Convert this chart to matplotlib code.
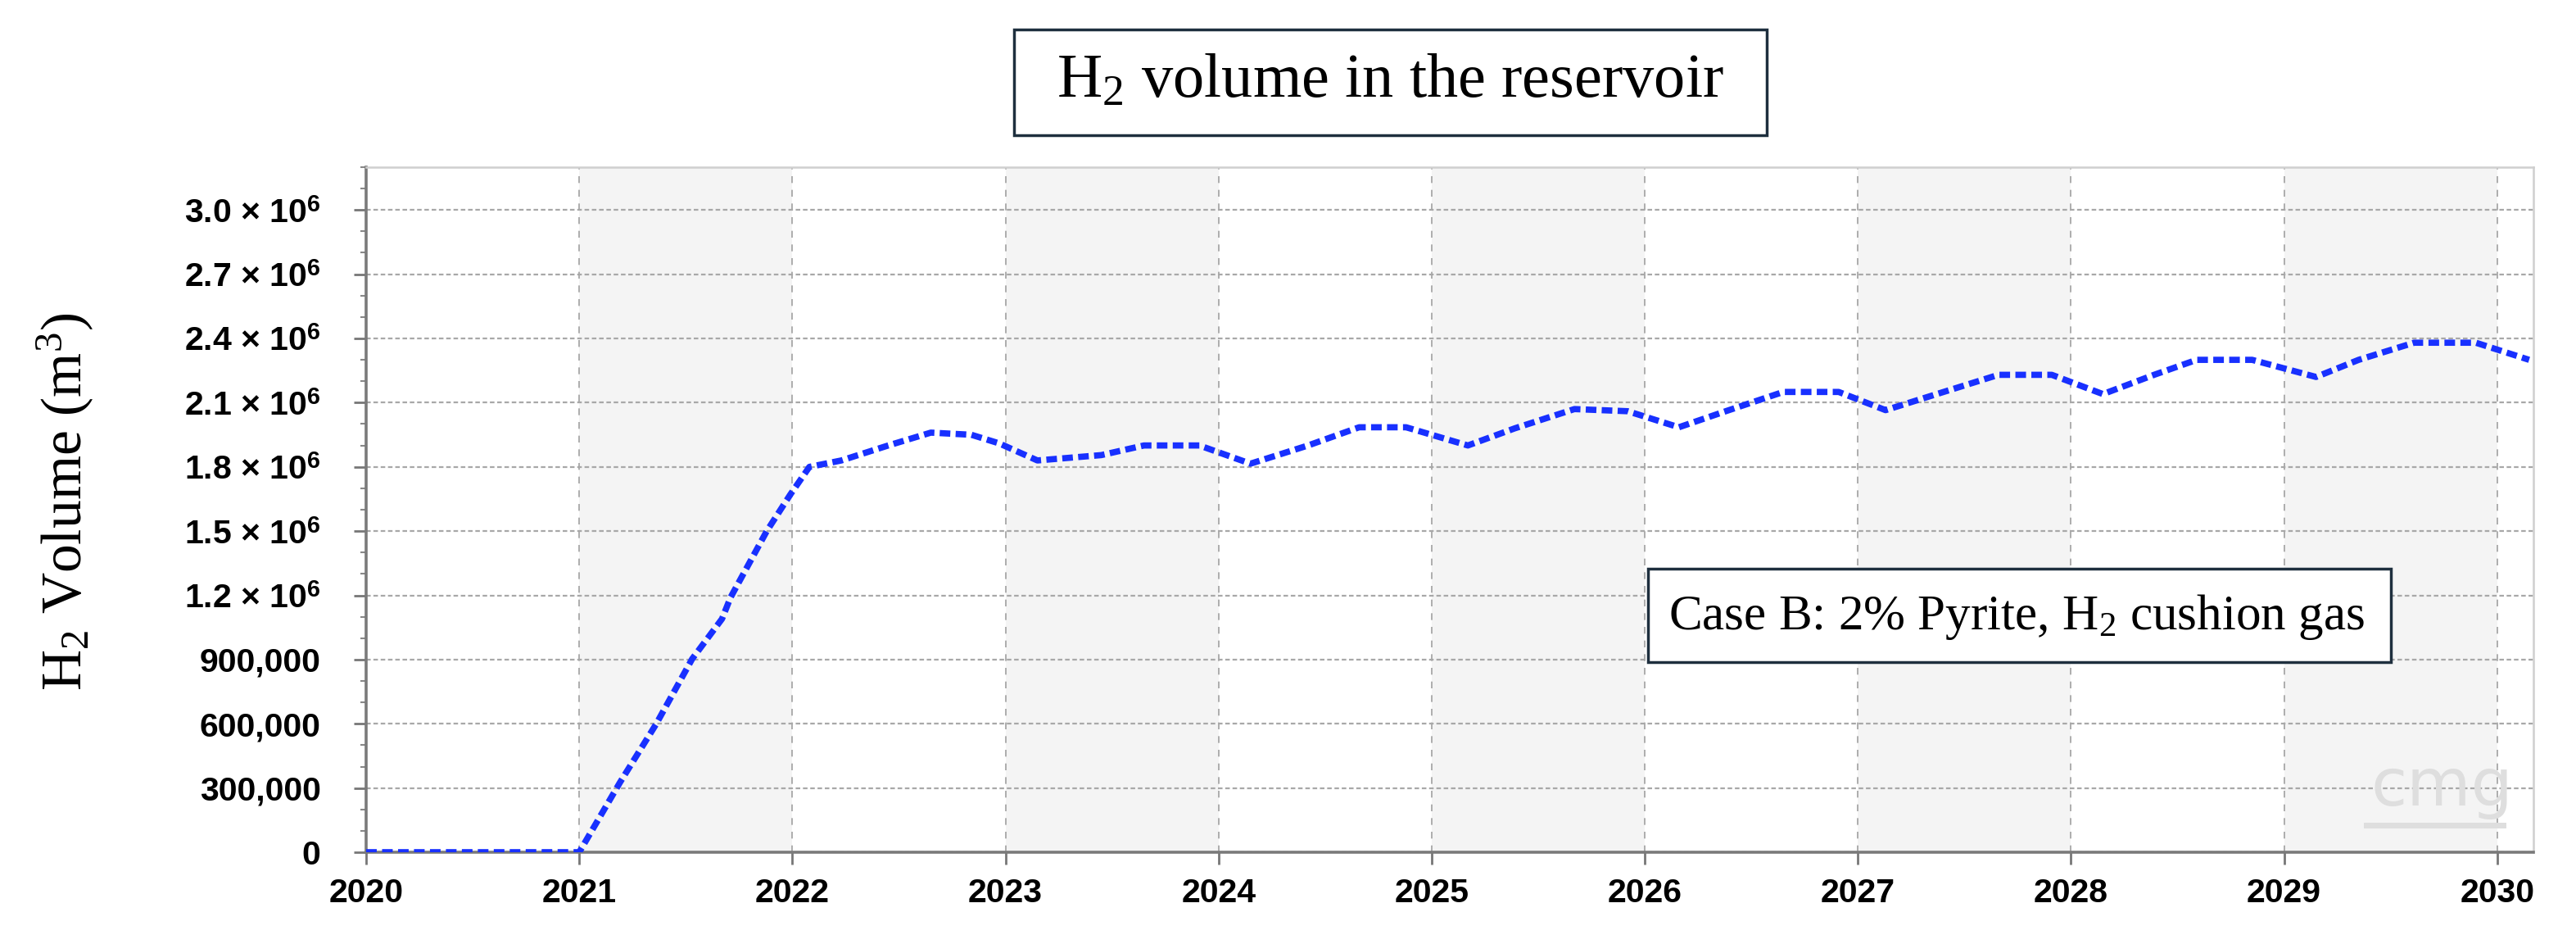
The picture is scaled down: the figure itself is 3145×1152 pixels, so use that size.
"""H2 volume in the reservoir -- Case B (2% pyrite, H2 cushion gas)."""
import numpy as np
import matplotlib
matplotlib.use("Agg")
import matplotlib.pyplot as plt
from matplotlib.patches import Rectangle
from matplotlib.ticker import FuncFormatter, MultipleLocator

plt.rcParams.update({
    "font.family": "Liberation Sans", "font.weight": "bold",
    "xtick.labelsize": 29.5, "ytick.labelsize": 29.5,
    "mathtext.fontset": "custom", "mathtext.rm": "Liberation Serif:weight=normal",
    "mathtext.it": "Liberation Serif:italic:weight=normal",
    "mathtext.bf": "Liberation Sans:bold",
})

# ---- data (years, m^3) ----
years = [2020.0, 2021.0, 2021.19, 2021.36, 2021.53, 2021.67, 2021.71, 2021.88, 2021.99,
         2022.08, 2022.23, 2022.45, 2022.65, 2022.84, 2022.97, 2023.15, 2023.45, 2023.65,
         2023.91, 2024.15, 2024.42, 2024.66, 2024.88, 2025.17, 2025.39, 2025.67, 2025.92,
         2026.16, 2026.38, 2026.65, 2026.91, 2027.13, 2027.37, 2027.66, 2027.91, 2028.15,
         2028.39, 2028.59, 2028.85, 2029.15, 2029.35, 2029.61, 2029.90, 2030.15]
h2_mm3 = [0, 0, 0.324, 0.597, 0.903, 1.09, 1.19, 1.50, 1.67,
          1.80, 1.83, 1.90, 1.96, 1.95, 1.91, 1.83, 1.855, 1.90,
          1.90, 1.815, 1.90, 1.985, 1.985, 1.90, 1.98, 2.07, 2.06,
          1.985, 2.06, 2.15, 2.15, 2.065, 2.14, 2.23, 2.23, 2.14,
          2.23, 2.30, 2.30, 2.22, 2.30, 2.38, 2.38, 2.30]
year_ticks = list(range(2020, 2031))
shaded_from = [2021, 2023, 2025, 2027, 2029]

title = "H$_2$ volume in the reservoir"
ylabel = "H$_2$ Volume (m$^3$)"
case_label = "Case B: 2% Pyrite, H$_2$ cushion gas"

vol = np.array(h2_mm3) * 1e6
XMAX, YMAX = 2030.17, 3.2e6
W, H = 3145, 1152
fig = plt.figure(figsize=(W / 100, H / 100), dpi=100)
ax = fig.add_axes([447 / W, 1 - 1040 / H, (3093 - 447) / W, (1040 - 204) / H])

for a in shaded_from:
    ax.axvspan(a, min(a + 1, XMAX), color="#f4f4f4", zorder=0, lw=0)

ax.plot(years, vol, color="#1830ff", lw=5.5, dashes=(1.7, 0.85), zorder=3)

ax.set_xlim(2020, XMAX); ax.set_ylim(0, YMAX)
ax.set_xticks(year_ticks)
ax.xaxis.set_major_formatter(FuncFormatter(lambda v, p: f"{int(round(v))}"))
ax.yaxis.set_major_locator(MultipleLocator(3e5))
ax.yaxis.set_minor_locator(MultipleLocator(1e5))


def yfmt(v, p):
    if v < 1:
        return "0"
    if v >= 1.2e6 - 1:
        return f"{v / 1e6:.1f} × 10" + r"$^{\mathbf{6}}$"
    return f"{int(round(v)):,}"


ax.yaxis.set_major_formatter(FuncFormatter(yfmt))
ax.tick_params(axis="both", which="major", direction="out", length=11, width=2,
               color="#777777")
ax.tick_params(axis="y", which="minor", direction="out", length=5, width=1.5, color="#888888")
ax.tick_params(axis="x", pad=11)
ax.tick_params(axis="y", pad=29)

ax.grid(axis="y", which="major", color="#a8a8a8", lw=1.6, ls=(0, (2.5, 1.5)), zorder=1)
ax.grid(axis="x", which="major", color="#a0a0a0", lw=1.2, ls=(0, (5, 5)), zorder=1)
ax.set_axisbelow(True)

for s in ("left", "bottom"):
    ax.spines[s].set(color="#7a7a7a", lw=2.6)
for s in ("top", "right"):
    ax.spines[s].set(color="#cfcfcf", lw=1.8)

# CMG watermark, lower right
ax.text(0.958, 0.095, "cmg", transform=ax.transAxes, color="#dedede", fontsize=58,
        ha="center", va="center", family="DejaVu Sans", weight="normal", zorder=2)
ax.plot([0.923, 0.986], [0.04, 0.04], transform=ax.transAxes, color="#dedede", lw=5, zorder=2)

# title box
fig.add_artist(Rectangle((1238 / W, 1 - 165 / H), 919 / W, 129 / H, transform=fig.transFigure,
                         fill=False, edgecolor="#1e2f3e", lw=2.5))
fig.text(1697 / W, 1 - 100 / H, title, family="Liberation Serif", weight="normal",
         fontsize=55, ha="center", va="center")

# case label box
fig.add_artist(Rectangle((2012 / W, 1 - 808 / H), 907 / W, 114 / H, transform=fig.transFigure,
                         facecolor="white", edgecolor="#1e2f3e", lw=2.5, zorder=5))
fig.text(2462 / W, 1 - 753 / H, case_label, family="Liberation Serif", weight="normal",
         fontsize=44, ha="center", va="center", zorder=6)

fig.text(80 / W, 1 - 612 / H, ylabel, family="Liberation Serif", weight="normal",
         fontsize=50, rotation=90, ha="center", va="center")

fig.savefig("out.png", dpi=100, facecolor="white")
